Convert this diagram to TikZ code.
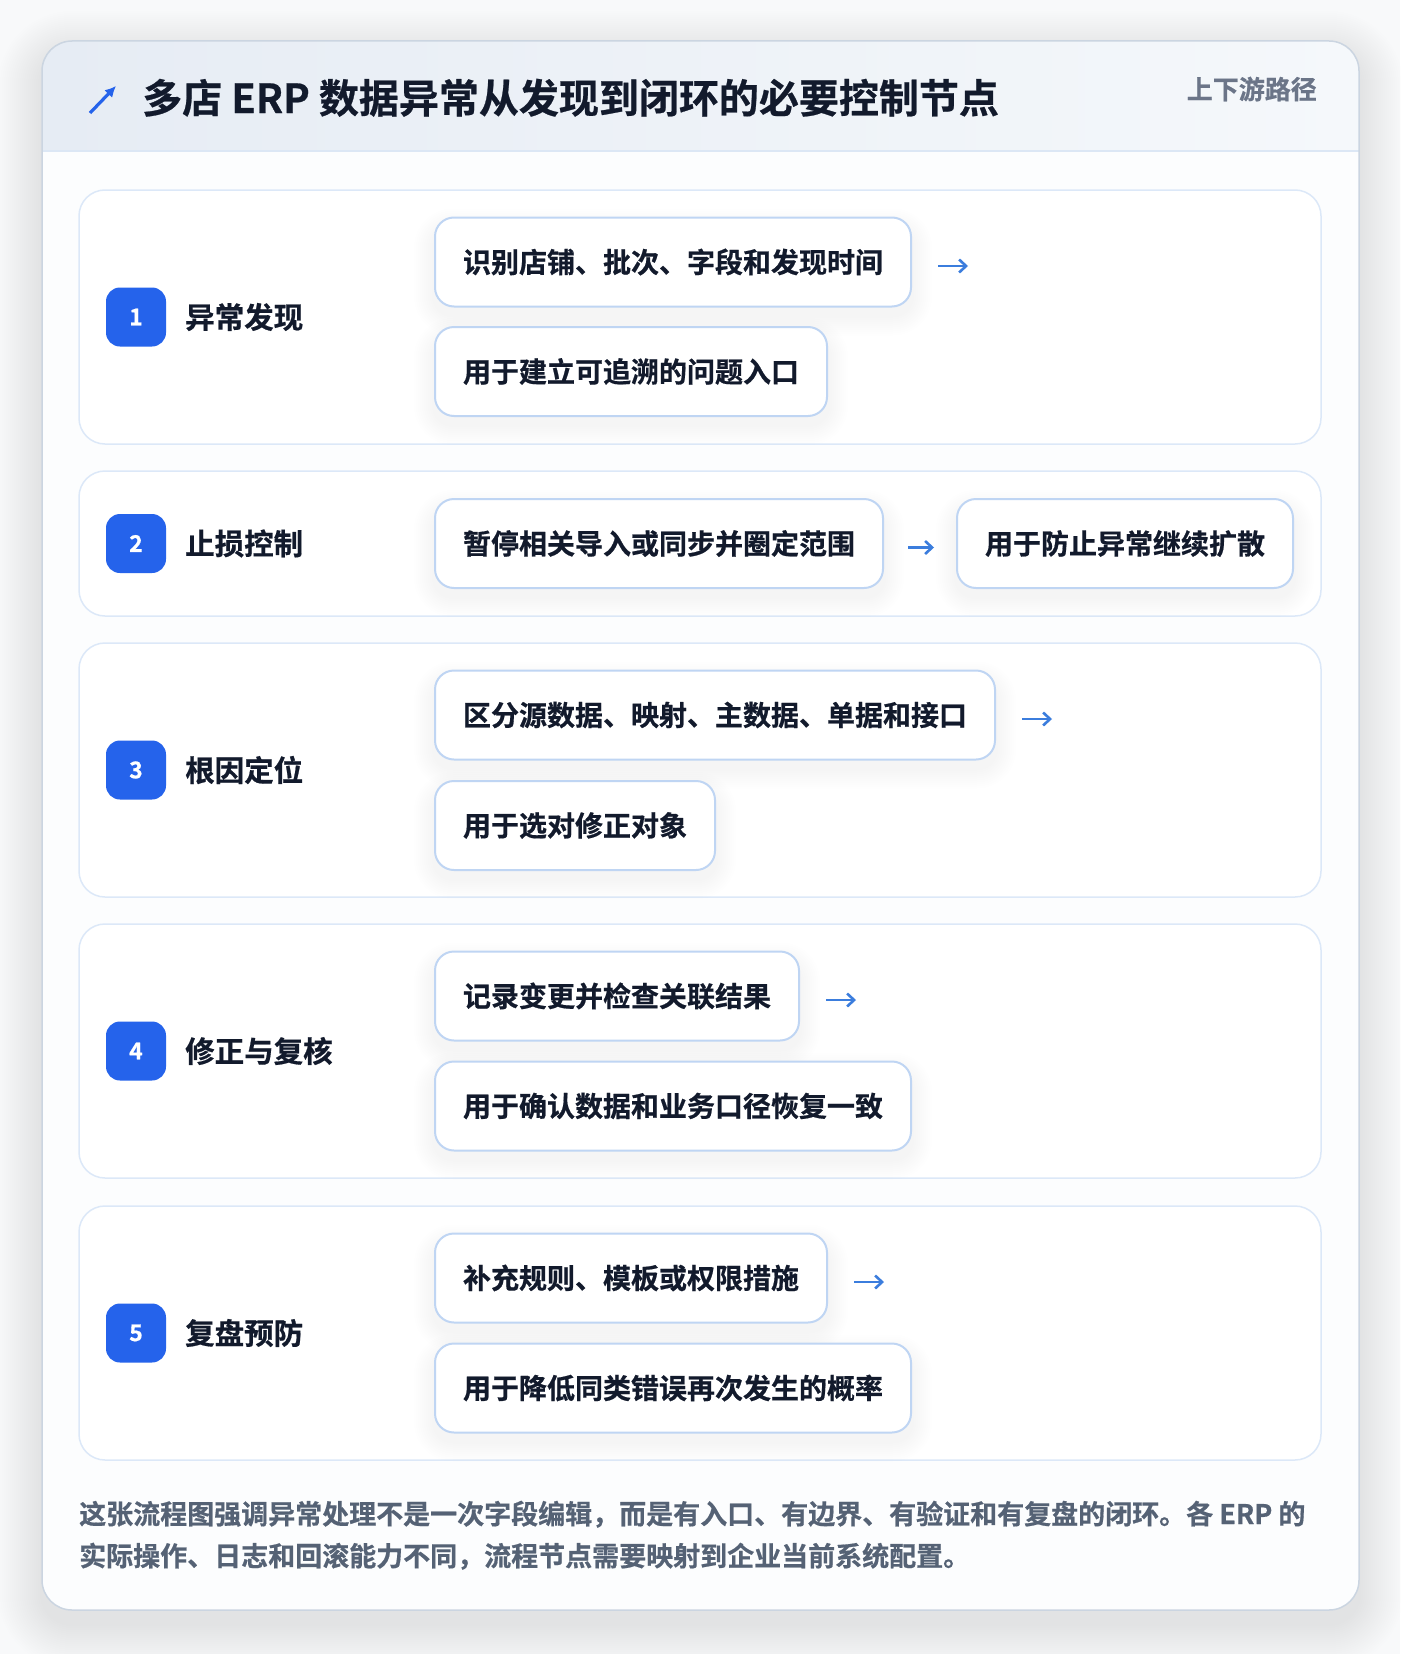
\documentclass[tikz,border=0pt]{standalone}
\usepackage{fontspec}
\setmainfont{Noto Sans CJK SC}[BoldFont={Noto Sans CJK SC Bold},BoldFeatures={FakeBold=0.6}]
\usetikzlibrary{arrows.meta,calc}
\pgfdeclarelayer{bg}\pgfdeclarelayer{shad}\pgfsetlayers{bg,shad,main}
\definecolor{pagebg}{HTML}{F8F9FA}
\definecolor{ink}{HTML}{121A2C}
\definecolor{badgeblue}{HTML}{2563EB}
\definecolor{arrowblue}{HTML}{3B7DDD}
\definecolor{panelborder}{HTML}{DCE8F8}
\definecolor{boxborder}{HTML}{BFD5F3}
\definecolor{hdrL}{HTML}{E6ECF4}
\definecolor{hdrR}{HTML}{F5F8FB}
\definecolor{hdrline}{HTML}{DCE7F5}
\definecolor{cardborder}{HTML}{CBD5E1}
\definecolor{cardfill}{HTML}{FCFDFE}
\definecolor{footgray}{HTML}{556275}
\definecolor{subgray}{HTML}{6B7588}
\newcommand{\boxshadow}[1]{%
  \foreach \s in {2,4,...,20}{%
    \pgfmathsetmacro{\rr}{19+\s}%
    \fill[black,opacity=0.0045,rounded corners=\rr pt]
      ($(#1.south west)+(-\s,\s+8)$) rectangle ($(#1.north east)+(\s,12-\s)$);
  }}
\begin{document}
\begin{tikzpicture}[x=1pt,y=-1pt,
  panel/.style={draw=panelborder,line width=1.5pt,fill=white,rounded corners=26pt},
  stepbox/.style={draw=boxborder,line width=2pt,fill=white,rounded corners=19pt,
    minimum height=89pt,inner xsep=28pt,inner ysep=0pt,anchor=west,
    font=\fontsize{28}{34}\selectfont\bfseries,text=ink},
  badge/.style={fill=badgeblue,rounded corners=14pt,minimum width=60pt,minimum height=59pt,
    inner sep=0pt,text=white,font=\fontsize{23}{23}\selectfont\bfseries},
  steplabel/.style={anchor=west,inner sep=0pt,font=\fontsize{29.5}{30}\selectfont\bfseries,text=ink},
  flow/.style={-{Straight Barb[length=7pt,width=13pt,line width=2.6pt]},line width=2.8pt,draw=arrowblue},
  foot/.style={anchor=base west,inner sep=0pt,font=\fontsize{27}{27}\selectfont\bfseries,text=footgray}]
\useasboundingbox (0,0) rectangle (1400,1654);
\begin{pgfonlayer}{bg}
\fill[pagebg] (0,0) rectangle (1400,1654);
% card shadow
\foreach \s in {2,4,...,44}{%
  \pgfmathsetmacro{\rr}{30+\s}%
  \fill[black,opacity=0.0028,rounded corners=\rr pt] (42-\s,41-\s+14) rectangle (1359+\s,1610+\s+14);
}
\fill[cardfill,rounded corners=30pt] (42,41) rectangle (1359,1610);
\begin{scope}
\clip[rounded corners=30pt] (42,41) rectangle (1359,1610);
\fill[left color=hdrL,right color=hdrR] (42,41) rectangle (1359,151);
\end{scope}
\draw[hdrline,line width=1.5pt] (42,151) -- (1359,151);
\draw[cardborder,line width=1.5pt,rounded corners=30pt] (42,41) rectangle (1359,1610);
% panels
\draw[panel] (79,190) rectangle (1321,444);
\draw[panel] (79,471) rectangle (1321,616);
\draw[panel] (79,643) rectangle (1321,897);
\draw[panel] (79,924) rectangle (1321,1178);
\draw[panel] (79,1206) rectangle (1321,1460);
\end{pgfonlayer}

% header
\draw[-{Latex[length=11pt,width=11pt]},line width=3.2pt,badgeblue] (90,113) -- (116,86);
\node[anchor=base west,inner sep=0pt,font=\fontsize{40}{40}\selectfont\bfseries,text=ink] (title) at (142,113)
  {多店 ERP 数据异常从发现到闭环的必要控制节点};
\node[anchor=base east,inner sep=0pt,font=\fontsize{26}{26}\selectfont\bfseries,text=subgray] (sub) at (1317,99) {上下游路径};

% step 1
\node[badge] (n1) at (136,317) {1};
\node[steplabel] (l1) at (185,317) {异常发现};
\node[stepbox] (a1) at (434,262) {识别店铺、批次、字段和发现时间};
\node[stepbox] (b1) at (434,371.5) {用于建立可追溯的问题入口};
\coordinate (e1) at ([xshift=56pt,yshift=-4pt]a1.east);
\draw[flow] ([xshift=26pt,yshift=-4pt]a1.east) -- (e1);

% step 2
\node[badge] (n2) at (136,543.5) {2};
\node[steplabel] (l2) at (185,543.5) {止损控制};
\node[stepbox] (a2) at (434,543.5) {暂停相关导入或同步并圈定范围};
\node[stepbox] (b2) at (956,543.5) {用于防止异常继续扩散};
\draw[flow] ([xshift=24pt,yshift=-4pt]a2.east) -- ([xshift=-22pt,yshift=-4pt]b2.west);

% step 3
\node[badge] (n3) at (136,770) {3};
\node[steplabel] (l3) at (185,770) {根因定位};
\node[stepbox] (a3) at (434,715) {区分源数据、映射、主数据、单据和接口};
\node[stepbox] (b3) at (434,825.5) {用于选对修正对象};
\coordinate (e3) at ([xshift=56pt,yshift=-4pt]a3.east);
\draw[flow] ([xshift=26pt,yshift=-4pt]a3.east) -- (e3);

% step 4
\node[badge] (n4) at (136,1051) {4};
\node[steplabel] (l4) at (185,1051) {修正与复核};
\node[stepbox] (a4) at (434,996) {记录变更并检查关联结果};
\node[stepbox] (b4) at (434,1106) {用于确认数据和业务口径恢复一致};
\coordinate (e4) at ([xshift=56pt,yshift=-4pt]a4.east);
\draw[flow] ([xshift=26pt,yshift=-4pt]a4.east) -- (e4);

% step 5
\node[badge] (n5) at (136,1333) {5};
\node[steplabel] (l5) at (185,1333) {复盘预防};
\node[stepbox] (a5) at (434,1278) {补充规则、模板或权限措施};
\node[stepbox] (b5) at (434,1388) {用于降低同类错误再次发生的概率};
\coordinate (e5) at ([xshift=56pt,yshift=-4pt]a5.east);
\draw[flow] ([xshift=26pt,yshift=-4pt]a5.east) -- (e5);

\begin{pgfonlayer}{shad}
\foreach \n in {a1,b1,a2,b2,a3,b3,a4,b4,a5,b5}{\boxshadow{\n}}
\end{pgfonlayer}

% footer
\node[foot] (f1) at (79,1524) {这张流程图强调异常处理不是一次字段编辑，而是有入口、有边界、有验证和有复盘的闭环。各 ERP 的};
\node[foot] (f2) at (79,1566) {实际操作、日志和回滚能力不同，流程节点需要映射到企业当前系统配置。};
\end{tikzpicture}
\end{document}
